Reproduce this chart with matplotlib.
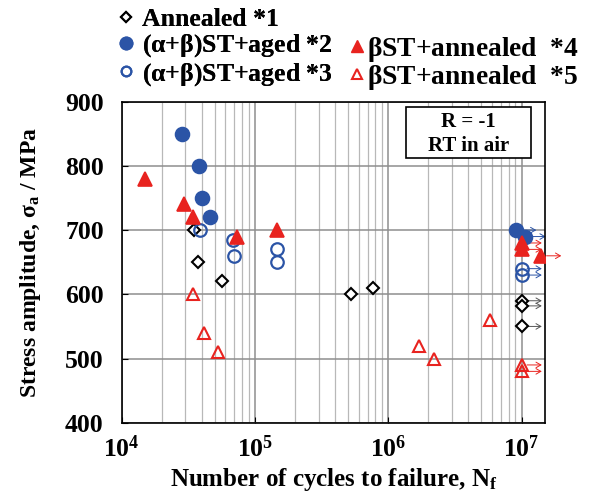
import matplotlib
matplotlib.use('Agg')
import matplotlib.pyplot as plt
from matplotlib.lines import Line2D
from matplotlib.patches import Rectangle

plt.rcParams['font.family'] = 'Liberation Serif'
plt.rcParams['font.weight'] = 'bold'
plt.rcParams['axes.labelweight'] = 'bold'
plt.rcParams['mathtext.fontset'] = 'custom'
plt.rcParams['mathtext.rm'] = 'Liberation Serif:bold'
plt.rcParams['mathtext.it'] = 'Liberation Serif:bold'
plt.rcParams['mathtext.bf'] = 'Liberation Serif:bold'

BLUE = '#2b54a6'
RED = '#e8231f'

# Annealed *1
ann_n = [3.5e4, 3.75e4, 5.7e4, 5.25e5, 7.65e5, 1e7, 1e7, 1e7]
ann_s = [700, 650, 620, 600, 610, 590, 582, 550]
ann_runout = [False, False, False, False, False, True, True, True]

# (a+b)ST+aged *2
stA_n = [2.82e4, 3.8e4, 4.0e4, 4.6e4, 9.1e6, 1.07e7]
stA_s = [850, 800, 750, 720, 700, 690]
stA_runout = [False, False, False, False, True, True]

# (a+b)ST+aged *3
stB_n = [3.85e4, 6.8e4, 7.0e4, 1.46e5, 1.46e5, 1e7, 1e7]
stB_s = [700, 685, 660, 670, 650, 640, 630]
stB_runout = [False, False, False, False, False, True, True]

# bST+annealed *4
bA_n = [1.5e4, 2.95e4, 3.4e4, 7.3e4, 1.46e5, 1e7, 1e7, 1.4e7]
bA_s = [780, 740, 720, 690, 700, 680, 670, 660]
bA_runout = [False, False, False, False, False, True, True, True]

# bST+annealed *5
bB_n = [3.4e4, 4.15e4, 5.3e4, 1.7e6, 2.2e6, 5.8e6, 1e7, 1e7]
bB_s = [600, 540, 510, 520, 500, 560, 490, 480]
bB_runout = [False, False, False, False, False, False, True, True]

fig = plt.figure(figsize=(5.92, 4.95), dpi=100)
ax = fig.add_axes([0.2056, 0.146, 0.715, 0.6485])

ax.set_xscale('log')
ax.set_xlim(1e4, 1.5e7)
ax.set_ylim(400, 900)
ax.set_yticks(range(400, 901, 100))
ax.set_xticks([1e4, 1e5, 1e6, 1e7])
ax.set_xticklabels([r'$10^{4}$', r'$10^{5}$', r'$10^{6}$', r'$10^{7}$'])

ax.grid(True, which='major', color='#8e8e8e', lw=1.1)
ax.grid(True, which='minor', axis='x', color='#b8b8b8', lw=0.9)
ax.set_axisbelow(True)
ax.tick_params(which='both', direction='in', labelsize=18.5, length=4)
ax.tick_params(axis='y', pad=13)
ax.tick_params(axis='x', pad=9)
ax.tick_params(which='minor', length=0)
for sp in ax.spines.values():
    sp.set_linewidth(1.2)

series = [
    (ann_n, ann_s, ann_runout, dict(marker='D', ms=6.5, mfc='white', mec='black', mew=1.5), '#555555'),
    (stA_n, stA_s, stA_runout, dict(marker='o', ms=10, mfc=BLUE, mec=BLUE, mew=1.2), BLUE),
    (stB_n, stB_s, stB_runout, dict(marker='o', ms=9, mfc='none', mec=BLUE, mew=1.6), BLUE),
    (bA_n, bA_s, bA_runout, dict(marker='^', ms=10, mfc=RED, mec=RED, mew=1.2), RED),
    (bB_n, bB_s, bB_runout, dict(marker='^', ms=9, mfc='none', mec=RED, mew=1.5), RED),
]

for n, s, runout, style, acol in series:
    ax.plot(n, s, ls='none', zorder=3, **style)
    for xi, yi, r in zip(n, s, runout):
        if r:
            ax.annotate('', xy=(xi * 1.42, yi), xytext=(xi * 1.1, yi),
                        arrowprops=dict(arrowstyle='->,head_length=0.35,head_width=0.2',
                                        color=acol, lw=0.7, shrinkA=0, shrinkB=0),
                        annotation_clip=False, zorder=2)

# condition box
ax.add_patch(Rectangle((0.672, 0.824), 0.295, 0.16, transform=ax.transAxes,
                       fc='white', ec='black', lw=1.2, zorder=4))
ax.text(0.8195, 0.937, 'R = -1', transform=ax.transAxes,
        ha='center', va='center', fontsize=15, zorder=5)
ax.text(0.8195, 0.862, 'RT in air', transform=ax.transAxes,
        ha='center', va='center', fontsize=15, zorder=5)

ax.set_xlabel(r'Number of cycles to failure, N$_{\mathrm{f}}$', fontsize=18, labelpad=3)
ax.set_ylabel(r'Stress amplitude, $\mathrm{\sigma}_{\mathrm{a}}$ / MPa', fontsize=17, labelpad=16)

h_ann = Line2D([], [], ls='none', marker='D', ms=5.5, mfc='white', mec='black', mew=1.5)
h_stA = Line2D([], [], ls='none', marker='o', ms=9, mfc=BLUE, mec=BLUE)
h_stB = Line2D([], [], ls='none', marker='o', ms=7, mfc='none', mec=BLUE, mew=1.5)
h_bA = Line2D([], [], ls='none', marker='^', ms=9, mfc=RED, mec=RED)
h_bB = Line2D([], [], ls='none', marker='^', ms=7, mfc='none', mec=RED, mew=1.5)

leg_kw = dict(frameon=False, borderpad=0, borderaxespad=0)
leg1 = fig.legend([h_ann, h_stA, h_stB],
                  ['Annealed *1', r'($\alpha$+$\beta$)ST+aged *2', r'($\alpha$+$\beta$)ST+aged *3'],
                  loc='upper left', bbox_to_anchor=(0.198, 0.984), fontsize=18.5,
                  handlelength=0.67, handletextpad=0.28, labelspacing=0.06, **leg_kw)
leg2 = fig.legend([h_bA, h_bB],
                  [r'$\beta$ST+annealed  *4', r'$\beta$ST+annealed  *5'],
                  loc='upper left', bbox_to_anchor=(0.589, 0.93), fontsize=19.8,
                  handlelength=0.62, handletextpad=0.06, labelspacing=-0.02, **leg_kw)
fig.add_artist(leg1)

fig.savefig('out.png', dpi=100)
